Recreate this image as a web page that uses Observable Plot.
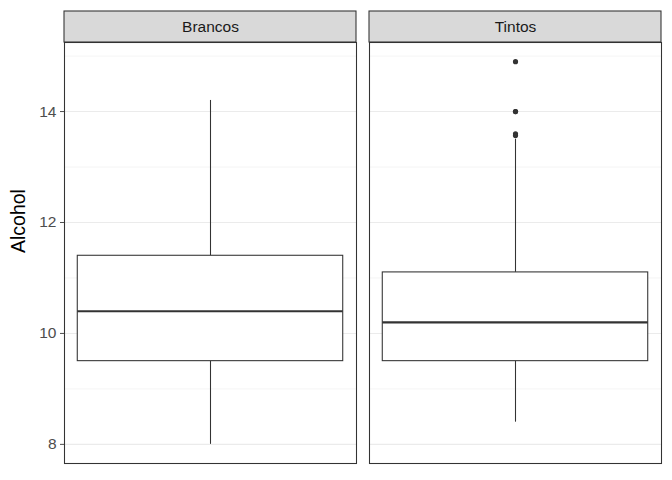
<!DOCTYPE html>
<html>
<head>
<meta charset="utf-8">
<script src="https://cdn.jsdelivr.net/npm/d3@7"></script>
<script src="https://cdn.jsdelivr.net/npm/@observablehq/plot@0.6"></script>
<style>
  html, body { margin: 0; padding: 0; background: #fff; }
  #chart svg { display: block; }
</style>
</head>
<body>
<div id="chart"></div>
<script>
// ---- data ----
const groups = ["Brancos", "Tintos"];
const whiskerLow = [8.0, 8.4];
const q1 = [9.5, 9.5];
const median = [10.4, 10.2];
const q3 = [11.4, 11.1];
const whiskerHigh = [14.2, 13.5];
const outlierGroup = ["Tintos", "Tintos", "Tintos", "Tintos", "Tintos"];
const outlierValue = [14.9, 14.0, 14.0, 13.6, 13.5667];
const yTicks = [8, 10, 12, 14];
const yMinorTicks = [9, 11, 13, 15];
const yLabel = "Alcohol";

// ---- derived tables ----
const boxes = groups.map((g, i) => ({
  group: g, lo: whiskerLow[i], q1: q1[i], med: median[i], q3: q3[i], hi: whiskerHigh[i]
}));
const outliers = outlierValue.map((v, i) => ({group: outlierGroup[i], value: v}));

const allVals = [...whiskerLow, ...whiskerHigh, ...outlierValue];
const [vmin, vmax] = d3.extent(allVals);
const pad = (vmax - vmin) * 0.05;
const halfW = 0.375;
const xPad = 2 * halfW * 0.05;

const width = 672, height = 480;
const marginTop = 42, marginBottom = 17, marginLeft = 64, marginRight = 10;
const stripH = 31;
const frameH = height - marginTop - marginBottom;
const ink = "#333333";

const chart = Plot.plot({
  width, height, marginTop, marginBottom, marginLeft, marginRight,
  style: {fontFamily: "'Liberation Sans', Arial, sans-serif", background: "#fff"},
  fx: {domain: groups, paddingInner: 0.0426, paddingOuter: 0, axis: null, label: null},
  x: {domain: [-halfW - xPad, halfW + xPad], axis: null},
  y: {domain: [vmin - pad, vmax + pad], axis: null},
  marks: [
    // minor + major grid
    Plot.ruleY(yMinorTicks, {y: d => d, stroke: "#ebebeb", strokeWidth: 0.55}),
    Plot.ruleY(yTicks, {y: d => d, stroke: "#ebebeb", strokeWidth: 1.1}),
    // whiskers
    Plot.ruleX(boxes, {fx: "group", x: () => 0, y1: "lo", y2: "q1", stroke: ink, strokeWidth: 1.07}),
    Plot.ruleX(boxes, {fx: "group", x: () => 0, y1: "q3", y2: "hi", stroke: ink, strokeWidth: 1.07}),
    // box
    Plot.rect(boxes, {fx: "group", x1: () => -halfW, x2: () => halfW, y1: "q1", y2: "q3",
      fill: "white", stroke: ink, strokeWidth: 1.07}),
    // median
    Plot.ruleY(boxes, {fx: "group", y: "med", x1: () => -halfW, x2: () => halfW, stroke: ink, strokeWidth: 2.2}),
    // outliers
    Plot.dot(outliers, {fx: "group", x: () => 0, y: "value", r: 2.6, fill: ink, stroke: "none"}),
    // panel border
    Plot.frame({stroke: ink, strokeWidth: 1.07}),
    // strip
    Plot.rect(groups, {fx: d => d, fill: "#d9d9d9", stroke: ink, strokeWidth: 1.07,
      insetTop: -stripH, insetBottom: frameH}),
    Plot.text(groups, {fx: d => d, text: d => d, frameAnchor: "top", dy: -stripH / 2,
      fill: "#1a1a1a", fontSize: 15.5, lineAnchor: "middle"}),
    // y axis
    Plot.axisY(yTicks, {tickSize: 4, tickPadding: 4, color: "#4d4d4d", fontSize: 15.5,
      tickFormat: d => String(d), label: null}),
    Plot.text([yLabel], {fx: () => groups[0], text: d => d, frameAnchor: "left", rotate: -90,
      dx: -46, fontSize: 19.5, fill: "#000"})
  ]
});
document.getElementById("chart").appendChild(chart);
</script>
</body>
</html>
